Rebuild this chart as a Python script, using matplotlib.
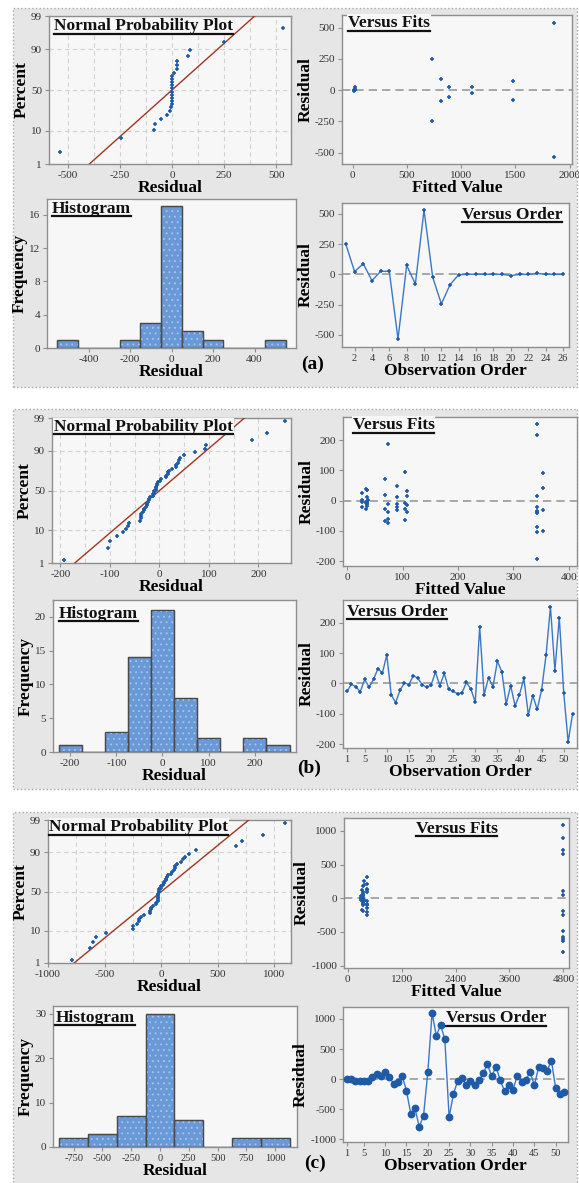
import numpy as np
import matplotlib
matplotlib.use("Agg")
import matplotlib.pyplot as plt
from matplotlib.patches import Rectangle
from matplotlib.lines import Line2D
from statistics import NormalDist

# ---------------- data ----------------
# panel (a): 26 observations
res_a = [248, 22, 88, -52, 25, 25, -536, 75, -80, 533, -25, -245, -85,
         -3, 0, 1, 0, 1, 0, -10, -1, 0, 8, 1, 0, -1]
fit_a = [730, 20, 810, 890, 890, 1100, 1860, 1480, 1480, 1860, 1100, 730, 810,
         15, 20, 10, 25, 15, 20, 10, 20, 15, 25, 10, 20, 15]

# panel (b): 52 observations
res_b = [-26, -3, -11, -27, 13, -12, 13, 49, 34, 94,
         -38, -63, -22, 2, -4, 26, 17, -4, -13, -6,
         37, -7, 33, -20, -26, -34, -31, 3, -18, -62,
         187, -38, 19, -11, 73, 39, -68, -7, -74, -37,
         17, -104, -40, -86, -21, 93, 253, 42, 217, -31,
         -193, -100]
fit_b = [68, 35, 36, 34, 89, 73, 35, 89, 36, 104,
         107, 104, 89, 26, 26, 26, 107, 34, 107, 36,
         35, 34, 107, 26, 104, 343, 89, 37, 35, 73,
         73, 73, 68, 89, 68, 34, 68, 104, 73, 343,
         343, 343, 343, 343, 343, 354, 343, 354, 343, 354,
         343, 354]

# panel (c): 52 observations
res_c = [0, 0, -30, -30, -30, -30, 30, 90, 45, 120,
         30, -75, -45, 50, -195, -575, -485, -790, -605, 115,
         1095, 720, 900, 660, -630, -250, -30, 15, -90, -30,
         -90, -20, 95, 250, 45, 210, -20, -195, -100, -175,
         60, -45, -15, 120, -100, 195, 180, 140, 310, -150,
         -250, -210]
fit_c = [330, 300, 320, 340, 360, 310, 330, 440, 350, 320,
         300, 340, 360, 4800, 4800, 4800, 4800, 4800, 4800, 4800,
         4800, 4800, 4800, 4800, 4800, 4800, 330, 310, 350, 320,
         440, 300, 340, 360, 330, 440, 310, 350, 440, 320,
         330, 440, 300, 440, 340, 360, 330, 440, 440, 440,
         440, 440]

pct_ticks = [1, 10, 50, 90, 99]

# ---------------- style ----------------
plt.rcParams['font.family'] = ['Liberation Serif', 'DejaVu Serif']
plt.rcParams['axes.unicode_minus'] = False
plt.rcParams['hatch.linewidth'] = 0.6
ND = NormalDist()
W, H = 579, 1183
fig = plt.figure(figsize=(W / 100, H / 100), dpi=100)
fig.patch.set_facecolor('white')

BLUE = '#1d5cab'
LINEBLUE = '#3a78c6'
RED = '#a3341e'
FACE = '#f7f7f7'
BAR = '#6a99d8'

# panel backgrounds
for (y0, y1) in [(8, 387), (409, 789), (812, 1185)]:
    fig.add_artist(Rectangle((13 / W, 1 - y1 / H), (577 - 13) / W, (y1 - y0) / H,
                             transform=fig.transFigure, facecolor='#e6e6e6',
                             edgecolor='#a8a8a8', ls=':', lw=1.0, zorder=-10))


def add_ax(box):
    x0, y0, x1, y1 = box
    ax = fig.add_axes([x0 / W, 1 - y1 / H, (x1 - x0) / W, (y1 - y0) / H])
    ax.set_facecolor(FACE)
    for s in ax.spines.values():
        s.set_color('#8f8f8f')
        s.set_linewidth(1.0)
    ax.tick_params(direction='out', length=3, width=0.8, color='#8f8f8f',
                   labelsize=8, labelcolor='#333333', pad=2)
    ax.tick_params(which='minor', length=0)
    return ax


titles = []


def title(ax, txt, x, y, ha='left'):
    t = ax.text(x, y, txt, transform=ax.transAxes, ha=ha, va='center',
                fontsize=12.5, fontweight='bold', color='#111111', zorder=6,
                bbox=dict(facecolor=FACE, edgecolor='none', pad=0.5))
    titles.append(t)


def labels(ax, xl, yl):
    ax.set_xlabel(xl, fontsize=12.5, fontweight='bold', labelpad=0)
    ax.set_ylabel(yl, fontsize=12.5, fontweight='bold', labelpad=1)


def npp(box, res, xlim, xticks, gstep, tpos):
    ax = add_ax(box)
    r = np.sort(np.asarray(res, float))
    n = len(r)
    p = (np.arange(1, n + 1) - 0.3) / (n + 0.4)
    z = np.array([ND.inv_cdf(v) for v in p])
    z0, z1 = ND.inv_cdf(0.01), ND.inv_cdf(0.99)
    mu, sd = r.mean(), r.std(ddof=1)
    ax.plot([mu + sd * z0, mu + sd * z1], [z0, z1], color=RED, lw=1.0, zorder=3)
    ax.plot(r, z, ls='none', marker='+', ms=3.2, mew=1.2, color=BLUE, zorder=4)
    ax.set_xlim(*xlim)
    ax.set_ylim(z0, z1)
    ax.set_xticks(xticks)
    ax.set_xticks(np.arange(xticks[0], xticks[-1] + gstep / 2, gstep), minor=True)
    ax.set_yticks([ND.inv_cdf(q / 100) for q in pct_ticks])
    ax.set_yticklabels([str(q) for q in pct_ticks])
    ax.grid(True, which='both', axis='x', color='#d2d2d2', ls=(0, (4, 3)), lw=0.8)
    ax.grid(True, which='major', axis='y', color='#d2d2d2', ls=(0, (4, 3)), lw=0.8)
    ax.set_axisbelow(True)
    labels(ax, 'Residual', 'Percent')
    title(ax, 'Normal Probability Plot', *tpos)
    return ax


def vfits(box, fit, res, xlim, ylim, xticks, yticks, tpos, ha='left'):
    ax = add_ax(box)
    ax.axhline(0, color='#9a9a9a', ls=(0, (5, 3)), lw=1.2, zorder=2)
    ax.plot(fit, res, ls='none', marker='+', ms=3.2, mew=1.2, color=BLUE, zorder=4)
    ax.set_xlim(*xlim)
    ax.set_ylim(*ylim)
    ax.set_xticks(xticks)
    ax.set_yticks(yticks)
    labels(ax, 'Fitted Value', 'Residual')
    title(ax, 'Versus Fits', *tpos, ha=ha)
    return ax


def hist(box, res, edges, xlim, ylim, xticks, yticks, tpos, xls=8):
    ax = add_ax(box)
    ax.hist(res, bins=edges, color=BAR, edgecolor='#4a4a4a', lw=0.9, zorder=3)
    ax.hist(res, bins=edges, facecolor='none', edgecolor='#a9c6ee', lw=0,
            hatch='...', zorder=3.5)
    ax.hist(res, bins=edges, facecolor='none', edgecolor='#4a4a4a', lw=0.9, zorder=4)
    ax.set_xlim(*xlim)
    ax.set_ylim(*ylim)
    ax.set_xticks(xticks)
    ax.set_yticks(yticks)
    ax.tick_params(axis='x', labelsize=xls)
    labels(ax, 'Residual', 'Frequency')
    title(ax, 'Histogram', *tpos)
    return ax


def vorder(box, res, xlim, ylim, xticks, yticks, tpos, ha='left', big=False):
    ax = add_ax(box)
    obs = np.arange(1, len(res) + 1)
    ax.axhline(0, color='#9a9a9a', ls=(0, (5, 3)), lw=1.2, zorder=2)
    if big:
        ax.plot(obs, res, color=LINEBLUE, lw=1.0, marker='o', ms=4.6,
                mfc='#1f5aa8', mec='#1f5aa8', zorder=4)
    else:
        ax.plot(obs, res, color=LINEBLUE, lw=1.0, marker='+', ms=3.0, mew=1.1,
                mec=BLUE, zorder=4)
    ax.set_xlim(*xlim)
    ax.set_ylim(*ylim)
    ax.set_xticks(xticks)
    ax.set_yticks(yticks)
    ax.tick_params(axis='x', labelsize=7.5)
    labels(ax, 'Observation Order', 'Residual')
    title(ax, 'Versus Order', *tpos, ha=ha)
    return ax


# ---------------- panel (a) ----------------
npp((49, 16, 291, 164), res_a, (-590, 570), [-500, -250, 0, 250, 500], 125, (0.02, 0.93))
vfits((342, 15, 572, 164), fit_a, res_a, (-99, 2022), (-591, 600),
      [0, 500, 1000, 1500, 2000], [-500, -250, 0, 250, 500], (0.026, 0.946))
hist((47, 199, 296, 348), res_a, np.arange(-550, 551, 100), (-600, 600), (0, 17.9),
     [-400, -200, 0, 200, 400], [0, 4, 8, 12, 16], (0.02, 0.933))
vorder((342, 203, 569, 347), res_a, (0.55, 26.7), (-602, 591), list(range(2, 27, 2)),
       [-500, -250, 0, 250, 500], (0.97, 0.917), ha='right')

# ---------------- panel (b) ----------------
npp((52, 418, 291, 563), res_b, (-217, 266), [-200, -100, 0, 100, 200], 50, (0.008, 0.94))
vfits((343, 417, 577, 566), fit_b, res_b, (-8, 415), (-216, 277),
      [0, 100, 200, 300, 400], [-200, -100, 0, 100, 200], (0.041, 0.946))
hist((53, 600, 296, 752), res_b, np.arange(-225, 276, 50), (-237, 289), (0, 22.5),
     [-200, -100, 0, 100, 200], [0, 5, 10, 15, 20], (0.025, 0.908))
vorder((343, 600, 577, 748), res_b, (0.1, 53), (-213, 275), [1] + list(range(5, 51, 5)),
       [-200, -100, 0, 100, 200], (0.017, 0.919))

# ---------------- panel (c) ----------------
npp((48, 820, 291, 963), res_c, (-1000, 1150), [-1000, -500, 0, 500, 1000], 250, (0.006, 0.95))
vfits((344, 818, 569, 968), fit_c, res_c, (-82, 4925), (-1035, 1193),
      [0, 1200, 2400, 3600, 4800], [-1000, -500, 0, 500, 1000], (0.5, 0.927), ha='center')
hist((53, 1006, 297, 1147), res_c, np.arange(-875, 1126, 250), (-930, 1190), (0, 31.8),
     [-750, -500, -250, 0, 250, 500, 750, 1000], [0, 10, 20, 30], (0.01, 0.915), xls=7.5)
vorder((343, 1007, 568, 1142), res_c, (0.1, 52.9), (-1042, 1198), [1] + list(range(5, 51, 5)),
       [-1000, -500, 0, 500, 1000], (0.904, 0.918), ha='right', big=True)

# panel letters
for txt, x, y in [('(a)', 313, 364), ('(b)', 309, 768), ('(c)', 315, 1163)]:
    fig.text(x / W, 1 - y / H, txt, ha='center', va='center', fontsize=14, fontweight='bold')

# underline titles
fig.canvas.draw()
fw, fh = fig.bbox.width, fig.bbox.height
for t in titles:
    bb = t.get_window_extent()
    yy = (bb.y0 + 0.5) / fh
    fig.add_artist(Line2D([bb.x0 / fw, bb.x1 / fw], [yy, yy], transform=fig.transFigure,
                          color='#111111', lw=1.6, zorder=10))

fig.savefig('out.png', dpi=100, facecolor='white')
